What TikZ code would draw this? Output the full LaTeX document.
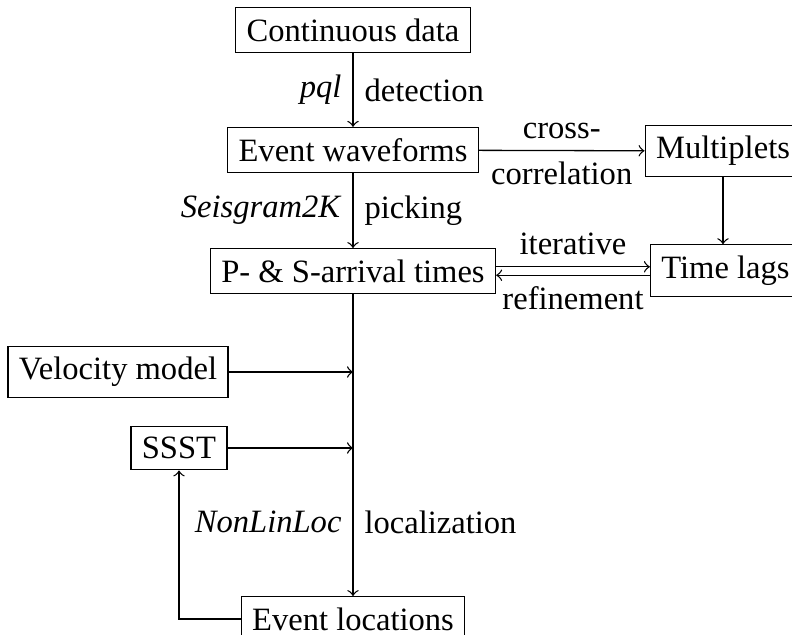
\documentclass[tikz,border=0pt]{standalone}
\usepackage{fontspec}
\setmainfont{Liberation Serif}
\begin{document}
\begin{tikzpicture}[x=0.307pt, y=-0.307pt, every node/.style={rectangle,draw}]
          \useasboundingbox (0,0) rectangle (792,635);
          \node (cont) at (353,30) {Continuous data};
          \node (wave) at (353,150) {Event waveforms};
          \node (mult) at (723,151) {Multiplets};
          \node (arr) at (353,271) {P- \& S-arrival times};
          \node (lags) at (725.5,270.5) {Time lags};
          \node (vel) at (118,372) {Velocity model};
          \node (ssst) at (179,448) {SSST};
          \node (loc) at (353,619) {Event locations};
          \coordinate (vin) at (353,372);
          \coordinate (sin) at (353,448);
          % Processing chain
          \draw[->] (cont) -- node[draw=none,left]{\textit{pql}} node[draw=none,right]{detection} (wave);
          \draw[->] (wave) -- node[draw=none,left]{\textit{Seisgram2K}} node[draw=none,right]{picking} (arr);
          \draw[->] (arr) -- (sin) -- node[draw=none,left]{\textit{NonLinLoc}} node[draw=none,right]{localization} (loc);
          % Cross-correlation branch
          \draw[->] (wave) -- node[draw=none,above]{cross-} node[draw=none,below]{correlation} (mult);
          \draw[->] (mult) -- (mult |- lags.north);
          \draw[->] ([yshift=1.3pt]arr.east) -- node[draw=none,above]{iterative} ([yshift=1.3pt]arr.east -| lags.west);
          \draw[->] ([yshift=-1.3pt]arr.east -| lags.west) -- node[draw=none,below]{refinement} ([yshift=-1.3pt]arr.east);
          % Inputs
          \draw[->] (vel) -- (vin);
          \draw[->] (ssst) -- (sin);
          \draw[->] (loc) -| (ssst);
        \end{tikzpicture}
\end{document}
